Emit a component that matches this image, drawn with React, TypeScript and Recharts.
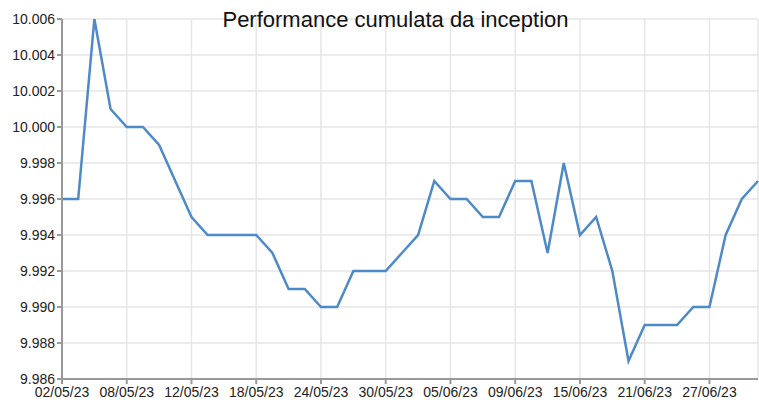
import { CartesianGrid, Line, LineChart, XAxis, YAxis } from "recharts";

const dates = [
  "02/05/23", "03/05/23", "04/05/23", "05/05/23", "08/05/23", "09/05/23", "10/05/23", "11/05/23",
  "12/05/23", "15/05/23", "16/05/23", "17/05/23", "18/05/23", "19/05/23", "22/05/23", "23/05/23",
  "24/05/23", "25/05/23", "26/05/23", "29/05/23", "30/05/23", "31/05/23", "01/06/23", "02/06/23",
  "05/06/23", "06/06/23", "07/06/23", "08/06/23", "09/06/23", "12/06/23", "13/06/23", "14/06/23",
  "15/06/23", "16/06/23", "19/06/23", "20/06/23", "21/06/23", "22/06/23", "23/06/23", "26/06/23",
  "27/06/23", "28/06/23", "29/06/23", "30/06/23"
];

const nav = [
  9.996, 9.996, 10.006, 10.001, 10.0, 10.0, 9.999, 9.997,
  9.995, 9.994, 9.994, 9.994, 9.994, 9.993, 9.991, 9.991,
  9.99, 9.99, 9.992, 9.992, 9.992, 9.993, 9.994, 9.997,
  9.996, 9.996, 9.995, 9.995, 9.997, 9.997, 9.993, 9.998,
  9.994, 9.995, 9.992, 9.987, 9.989, 9.989, 9.989, 9.99,
  9.99, 9.994, 9.996, 9.997
];

const yTicks = [9.986, 9.988, 9.99, 9.992, 9.994, 9.996, 9.998, 10.0, 10.002, 10.004, 10.006];

const data = dates.map((d, i) => ({ date: d, value: nav[i] }));

const font = "'Liberation Sans', Arial, sans-serif";

export default function App() {
  return (
    <div style={{ position: "relative", width: 759, height: 405, fontFamily: font }}>
      <style>{"body{margin:0}"}</style>
      <LineChart width={759} height={405} data={data} margin={{ top: 19, right: 1, left: 0, bottom: 0 }}>
        <CartesianGrid stroke="#e6e6e6" strokeWidth={1.5} />
        <XAxis
          dataKey="date"
          interval={3}
          height={26}
          tickSize={5}
          tickMargin={3}
          stroke="#999"
          strokeWidth={2}
          tick={{ fill: "#222", fontSize: 14, fontFamily: font }}
        />
        <YAxis
          domain={[9.986, 10.006]}
          ticks={yTicks}
          width={62}
          tickSize={5}
          tickMargin={2}
          stroke="#999"
          strokeWidth={2}
          tickFormatter={(v: number) => v.toFixed(3)}
          tick={{ fill: "#222", fontSize: 14, fontFamily: font }}
        />
        <Line
          type="linear"
          dataKey="value"
          stroke="#4e89c8"
          strokeWidth={2.5}
          dot={false}
          isAnimationActive={false}
        />
      </LineChart>
      <svg width={759} height={40} style={{ position: "absolute", left: 0, top: 0, pointerEvents: "none" }}>
        <text x={395.5} y={27} textAnchor="middle" fontSize={22} fontFamily={font} fill="#111">
          Performance cumulata da inception
        </text>
      </svg>
    </div>
  );
}
